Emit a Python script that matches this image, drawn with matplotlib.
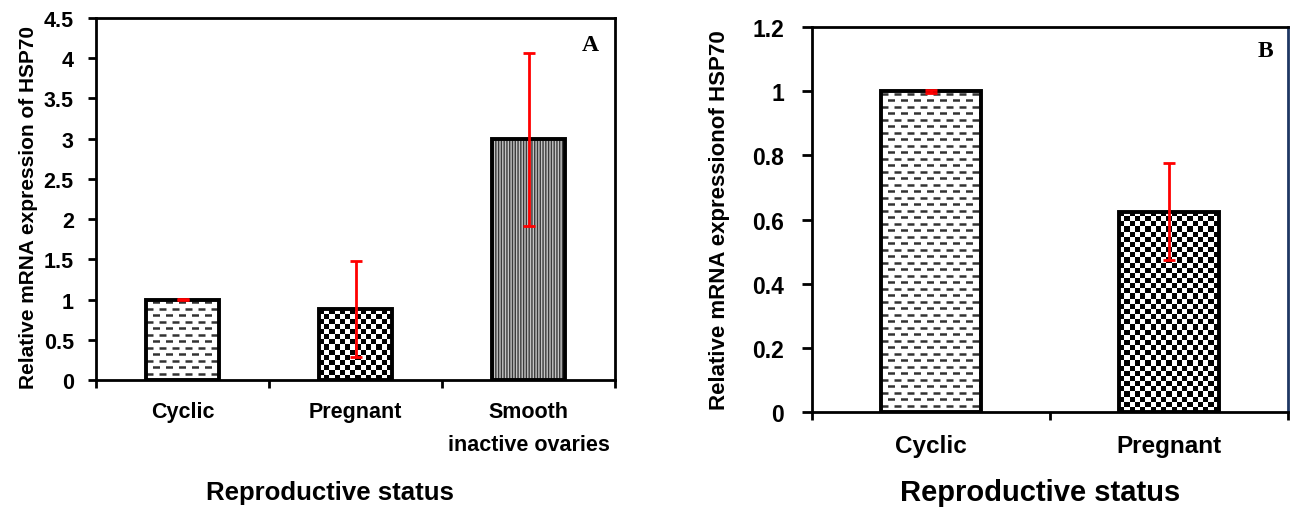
import matplotlib
matplotlib.use("Agg")
import matplotlib.pyplot as plt
import numpy as np

plt.rcParams['font.family'] = ['Liberation Sans', 'DejaVu Sans']
plt.rcParams['font.weight'] = 'bold'
plt.rcParams['axes.labelweight'] = 'bold'
plt.rcParams['lines.scale_dashes'] = False
plt.rcParams['hatch.linewidth'] = 1.0

# panel A data
cats_a = ['Cyclic', 'Pregnant', 'Smooth\ninactive ovaries']
vals_a = [1.0, 0.88, 2.99]
errs_a = [0.01, 0.60, 1.07]

# panel B data
cats_b = ['Cyclic', 'Pregnant']
vals_b = [1.0, 0.625]
errs_b = [0.005, 0.15]

fig = plt.figure(figsize=(12.91, 5.10), dpi=100)
ax_a = fig.add_axes([0.0744, 0.2529, 0.402, 0.7098])
ax_b = fig.add_axes([0.629, 0.190, 0.3687, 0.755])


def dashes_fill(ax, bar, step=6.5, dash=7, gap=6):
    # horizontal dashed rows, alternate rows shifted
    x0, y0 = bar.get_x(), bar.get_y()
    w, h = bar.get_width(), bar.get_height()
    p0 = ax.transData.transform((x0, y0))
    p1 = ax.transData.transform((x0 + w, y0 + h))
    nrows = int((p1[1] - p0[1]) / step)
    k = 72 / fig.dpi
    for i in range(1, nrows + 1):
        yy = ax.transData.inverted().transform((p0[0], p0[1] + i * step))[1]
        off = 0 if i % 2 else (dash + gap) / 2
        ln, = ax.plot([x0, x0 + w], [yy, yy], color='#333333', lw=1.8,
                      linestyle=(off * k, (dash * k, gap * k)), zorder=2,
                      solid_capstyle='butt')
        ln.set_clip_path(bar)


def checker_fill(ax, bar, cell=5.2):
    x0, y0 = bar.get_x(), bar.get_y()
    w, h = bar.get_width(), bar.get_height()
    p0 = ax.transData.transform((x0, y0))
    p1 = ax.transData.transform((x0 + w, y0 + h))
    nx = max(1, int(round((p1[0] - p0[0]) / cell)))
    ny = max(1, int(round((p1[1] - p0[1]) / cell)))
    grid = np.indices((ny, nx)).sum(axis=0) % 2
    im = ax.imshow(grid, cmap='gray', extent=(x0, x0 + w, y0, y0 + h),
                   aspect='auto', interpolation='nearest', zorder=2)
    im.set_clip_path(bar)


def draw_panel(ax, cats, vals, errs, ymax, ystep, fills, letter, letter_pos,
               tick_fs, xpad, ypad, ylen):
    x = np.arange(len(cats))
    ax.set_xlim(-0.5, len(cats) - 0.5)
    ax.set_ylim(0, ymax)
    bars = ax.bar(x, vals, width=0.42, facecolor='none', edgecolor='black',
                  linewidth=2.8, zorder=3)
    for b, f in zip(bars, fills):
        if f == 'dash':
            bg = ax.bar(b.get_x() + b.get_width() / 2, b.get_height(),
                        width=b.get_width(), color='white', zorder=1)[0]
            dashes_fill(ax, bg)
        elif f == 'check':
            bg = ax.bar(b.get_x() + b.get_width() / 2, b.get_height(),
                        width=b.get_width(), color='white', zorder=1)[0]
            checker_fill(ax, bg)
        elif f == 'vline':
            ax.bar(b.get_x() + b.get_width() / 2, b.get_height(),
                   width=b.get_width(), facecolor='#c4c4c4',
                   edgecolor='#3a3a3a', hatch='||||||', linewidth=0, zorder=1)
    ax.errorbar(x, vals, yerr=errs, fmt='none', ecolor='red', elinewidth=2,
                capsize=4, capthick=2, zorder=4)
    ax.set_xlim(-0.5, len(cats) - 0.5)
    ax.set_ylim(0, ymax)
    yt = np.arange(0, ymax + ystep / 2, ystep)
    ax.set_yticks(yt)
    ax.set_yticklabels(['%g' % t for t in yt], fontsize=tick_fs[0])
    ax.set_xticks(x)
    ax.set_xticklabels(cats, fontsize=tick_fs[1], linespacing=1.75)
    ax.tick_params(axis='x', which='major', length=0, pad=xpad)
    ax.set_xticks(np.arange(-0.5, len(cats)), minor=True)
    ax.tick_params(axis='x', which='minor', length=6, width=2, direction='out')
    ax.tick_params(axis='y', length=ylen, width=2, direction='out', pad=ypad)
    for s in ax.spines.values():
        s.set_linewidth(2)
    ax.text(letter_pos[0], letter_pos[1], letter, transform=ax.transAxes,
            fontfamily='Liberation Serif', fontweight='bold', fontsize=17,
            ha='center', va='center')


draw_panel(ax_a, cats_a, vals_a, errs_a, 4.5, 0.5,
           ['dash', 'check', 'vline'], 'A', (0.952, 0.928), (15.5, 15.5),
           15, 10, 6)
ax_a.set_ylabel('Relative mRNA expression of HSP70', fontsize=15)
ax_a.yaxis.set_label_coords(-0.112, 0.48)
fig.text(0.2556, 0.033, 'Reproductive status', fontsize=18.5,
         ha='center', va='center')

draw_panel(ax_b, cats_b, vals_b, errs_b, 1.2, 0.2,
           ['dash', 'check'], 'B', (0.952, 0.938), (16.5, 17.5),
           16, 13, 7)
ax_b.spines['right'].set_color('#1f3864')
ax_b.set_ylabel('Relative mRNA expressionof HSP70', fontsize=16)
ax_b.yaxis.set_label_coords(-0.172, 0.50)
fig.text(0.8056, 0.033, 'Reproductive status', fontsize=21,
         ha='center', va='center')

fig.savefig('out.png', dpi=100)
